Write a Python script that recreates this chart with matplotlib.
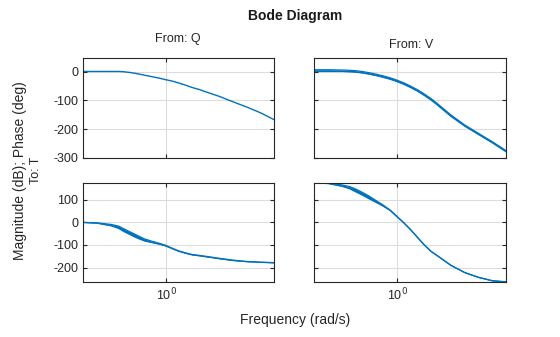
import matplotlib
matplotlib.use("Agg")
import matplotlib.pyplot as plt

plt.rcParams["font.family"] = ["Liberation Sans", "DejaVu Sans"]
plt.rcParams["axes.unicode_minus"] = False

# frequencies (rad/s) where the curves were read
w = [0.30, 0.37, 0.45, 0.50, 0.54, 0.60, 0.66, 0.73, 0.81, 0.90, 0.98,
     1.1, 1.2, 1.33, 1.46, 1.62, 1.78, 2.17, 2.65, 3.23, 3.94, 4.8]

# From Q -> T, magnitude (dB)
mag_q = [1, 1, 1, 1, 0, -3, -7, -12, -17, -22, -27,
         -33, -39, -47, -55, -62, -70, -86, -105, -123, -143, -167]
# From V -> T, magnitude (dB), upper and lower edge of the band
mag_v_hi = [7, 7, 6, 5, 4, 1, -3, -8, -14, -21, -28,
            -39, -49, -62, -76, -93, -111, -151, -186, -215, -244, -275]
mag_v_lo = [1, 1, 1, 0, -1, -4, -8, -13, -19, -26, -33,
            -44, -54, -67, -81, -98, -116, -156, -190, -219, -248, -279]
# From Q -> T, phase (deg)
ph_q_hi = [0, -2, -9, -16, -28, -44, -58, -73, -83, -92, -100,
           -115, -126, -135, -142, -146, -150, -159, -167, -173, -176, -178]
ph_q_lo = [0, -4, -15, -26, -40, -56, -70, -82, -89, -96, -103,
           -117, -128, -137, -144, -148, -152, -161, -169, -174, -177, -179]
# From V -> T, phase (deg)
ph_v_hi = [176, 174, 166, 159, 150, 134, 118, 98, 78, 55, 31,
           -2, -29, -64, -96, -127, -147, -190, -222, -243, -258, -263]
ph_v_lo = [176, 172, 160, 150, 138, 122, 106, 90, 73, 53, 29,
           -3, -30, -65, -97, -128, -148, -191, -223, -244, -259, -264]

blue = "#0072BD"
fig = plt.figure(figsize=(5.6, 3.37), dpi=100)

boxes = {
    (0, 0): [0.1488, 0.5318, 0.3405, 0.2953],
    (0, 1): [0.5607, 0.5318, 0.3429, 0.2953],
    (1, 0): [0.1488, 0.1632, 0.3405, 0.2947],
    (1, 1): [0.5607, 0.1632, 0.3429, 0.2947],
}
axs = {k: fig.add_axes(v) for k, v in boxes.items()}

axs[(0, 0)].plot(w, mag_q, color=blue, lw=1)
for ax, hi, lo in [(axs[(0, 1)], mag_v_hi, mag_v_lo),
                   (axs[(1, 0)], ph_q_hi, ph_q_lo),
                   (axs[(1, 1)], ph_v_hi, ph_v_lo)]:
    ax.fill_between(w, lo, hi, color=blue, lw=0)
    ax.plot(w, hi, color=blue, lw=0.9)
    ax.plot(w, lo, color=blue, lw=0.9)

for (r, c), ax in axs.items():
    ax.set_xscale("log")
    ax.set_xlim(0.3, 4.8)
    ax.set_xticks([1])
    ax.minorticks_off()
    if r == 0:
        ax.set_ylim(-300, 47)
        ax.set_yticks([0, -100, -200, -300])
    else:
        ax.set_ylim(-264, 176)
        ax.set_yticks([100, 0, -100, -200])
    ax.grid(True, color="#dcdcdc", lw=0.8)
    ax.set_axisbelow(True)
    ax.tick_params(direction="in", length=3, top=True, right=True,
                   labelsize=9, color="#262626", labelcolor="#262626")
    for s in ax.spines.values():
        s.set_color("#262626")
        s.set_linewidth(0.8)
    if r == 0:
        ax.set_xticklabels([])
    else:
        ax.set_xticklabels(["10$^0$"])
    if c == 1:
        ax.set_yticklabels([])

fig.text(0.527, 0.952, "Bode Diagram", ha="center", va="center",
         fontsize=10, fontweight="bold", color="#1a1a1a")
fig.text(0.318, 0.884, "From: Q", ha="center", va="center", fontsize=9, color="#262626")
fig.text(0.734, 0.866, "From: V", ha="center", va="center", fontsize=9, color="#262626")
fig.text(0.527, 0.050, "Frequency (rad/s)", ha="center", va="center", fontsize=10, color="#262626")
fig.text(0.036, 0.495, "Magnitude (dB); Phase (deg)", ha="center", va="center",
         rotation=90, fontsize=10, color="#262626")
fig.text(0.064, 0.495, "To: T", ha="center", va="center", rotation=90, fontsize=9, color="#262626")

fig.savefig("out.png", dpi=100)
